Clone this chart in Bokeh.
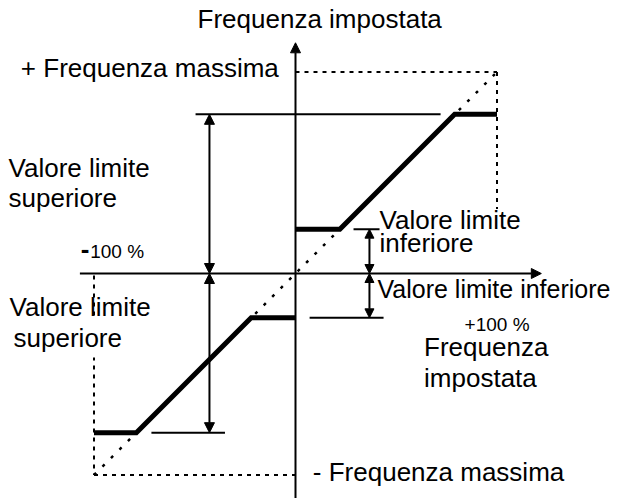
from bokeh.plotting import figure
from bokeh.models import Range1d, Arrow, NormalHead
from bokeh.core.properties import value
from bokeh.embed import file_html
from bokeh.resources import INLINE

# ---------------- values (percent of the maximum frequency) ----------------
max_freq = 100
lower_limit = 22
upper_limit = 79

# limited set-frequency characteristic
curve_pos_x = [0, lower_limit, upper_limit, max_freq]
curve_pos_y = [lower_limit, lower_limit, upper_limit, upper_limit]
curve_neg_x = [-max_freq, -upper_limit, -lower_limit, 0]
curve_neg_y = [-upper_limit, -upper_limit, -lower_limit, -lower_limit]

# unlimited (ideal) characteristic
ideal_x = [-max_freq, max_freq]
ideal_y = [-max_freq, max_freq]

# texts
big_texts = ["Frequenza impostata", "+ Frequenza massima",
             "Valore limite", "superiore",
             "Valore limite", "inferiore",
             "Frequenza", "impostata",
             "Valore limite",
             "- Frequenza massima"]
edge_texts = ["Valore limite inferiore"]
boxed_texts = ["superiore"]
minus_text = ["-"]
small_texts = ["100 %", "+100 %"]

# ---------------- layout ----------------
big_x = [-48.6, -136.3, -142.4, -142.4, 41.7, 41.7, 63.8, 63.8, -141.9, 8.6]
big_y = [122.1, 97.8, 48.6, 33.7, 22.8, 11.4, -40.2, -55.6, -20.8, -102.7]
edge_x = [40.7]
edge_y = [-11.9]
boxed_x = [-141.9]
boxed_y = [-36.2]
minus_x = [-106.6]
minus_y = [8.4]
small_x = [-101.9, 83.9]
small_y = [7.9, -28.3]

S = 2.015
X0, Y0 = 295, 273  # pixel of the origin in the window
W, H = 618, 498
xr = Range1d((0 - X0) / S, (W - X0) / S)
yr = Range1d((Y0 - H) / S, (Y0 - 0) / S)

p = figure(width=W, height=H, x_range=xr, y_range=yr, x_axis_type=None, y_axis_type=None,
           toolbar_location=None, output_backend="svg", min_border=0,
           outline_line_color=None, background_fill_color="white", border_fill_color="white")
p.grid.visible = False

# dotted ideal characteristic and bounding box
p.line(ideal_x, ideal_y, line_color="black", line_width=2.5, line_dash="3 9")
p.line([0, max_freq], [max_freq, max_freq], line_color="black", line_width=2, line_dash="4 5")
p.line([max_freq, max_freq], [max_freq, 32], line_color="black", line_width=2, line_dash="4 5")
p.line([-max_freq, -max_freq], [-1, -max_freq], line_color="black", line_width=2, line_dash="4 5")
p.line([-max_freq, 0], [-max_freq, -max_freq], line_color="black", line_width=2, line_dash="4 5")

# reference lines
p.segment(x0=[-49.6, 28.8, 7.0, -71.5], x1=[72.0, 41.7, 43.7, -35.0],
          y0=[upper_limit, lower_limit, -lower_limit, -upper_limit],
          y1=[upper_limit, lower_limit, -lower_limit, -upper_limit],
          line_color="black", line_width=2)

# axes with arrows
ax_head = dict(size=10, fill_color="black", line_color="black", line_width=1)
p.add_layout(Arrow(x_start=-107, y_start=0, x_end=122, y_end=0, line_width=2,
                   line_color="black", end=NormalHead(**ax_head)))
p.add_layout(Arrow(x_start=0, y_start=-125, x_end=0, y_end=114.5, line_width=2,
                   line_color="black", end=NormalHead(**ax_head)))

# dimension arrows
def dim(x, y0, y1, size):
    p.add_layout(Arrow(x_start=x, y_start=y0, x_end=x, y_end=y1, line_width=2, line_color="black",
                       start=NormalHead(size=size, fill_color="black", line_color="black"),
                       end=NormalHead(size=size, fill_color="black", line_color="black")))

dim(-42.7, 0, upper_limit, 10)
dim(-42.7, 0, -upper_limit, 10)
dim(36.7, 0, lower_limit, 9)
dim(36.7, 0, -lower_limit, 9)

# limited characteristic
p.line(curve_pos_x, curve_pos_y, line_color="black", line_width=5, line_join="miter")
p.line(curve_neg_x, curve_neg_y, line_color="black", line_width=5, line_join="miter")

font = value("Liberation Sans")
common = dict(text_font=font, text_color="black", text_baseline="alphabetic", text_align="left")
p.text(x=big_x, y=big_y, text=big_texts, text_font_size="26px", y_offset=-8, **common)
p.text(x=edge_x, y=edge_y, text=edge_texts, text_font_size="25px", y_offset=-8, **common)
p.text(x=boxed_x, y=boxed_y, text=boxed_texts, text_font_size="26px", y_offset=-8,
       background_fill_color="white", padding=4, **common)
p.text(x=minus_x, y=minus_y, text=minus_text, text_font_size="26px", y_offset=-8,
       text_font_style="bold", **common)
p.text(x=small_x, y=small_y, text=small_texts, text_font_size="19px", y_offset=-6, **common)

open("out.html", "w").write(file_html(p, INLINE))
